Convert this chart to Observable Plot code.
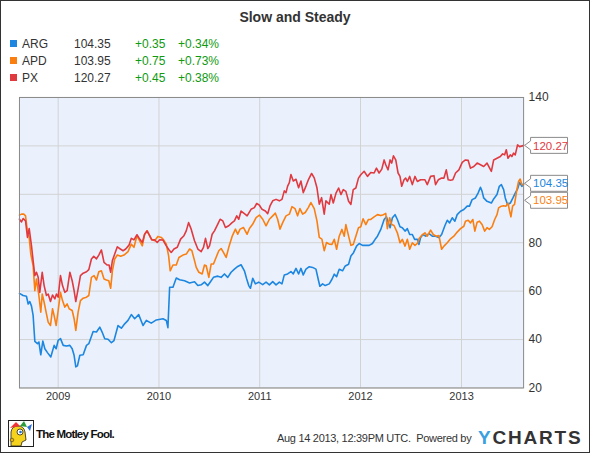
<!DOCTYPE html>
<html><head><meta charset="utf-8">
<script src="https://cdn.jsdelivr.net/npm/d3@7"></script>
<script src="https://cdn.jsdelivr.net/npm/@observablehq/plot@0.6"></script>
<style>
html,body{margin:0;padding:0;background:#fff;}
#wrap{position:relative;width:590px;height:453px;box-sizing:border-box;border:1px solid #333;overflow:hidden;font-family:"Liberation Sans",Arial,sans-serif;color:#333;background:#fff;}
#title{position:absolute;left:0;width:588px;top:8px;text-align:center;font-weight:bold;font-size:14px;line-height:17px;color:#333;}
.cell{position:absolute;font-size:12px;line-height:14px;white-space:nowrap;}
.sq{position:absolute;width:7px;height:7px;}
#chart{position:absolute;left:-1px;top:79px;}
#fool{position:absolute;left:7px;top:419px;}
#foolText{position:absolute;left:35px;top:426px;font-weight:bold;font-size:11.5px;letter-spacing:-0.8px;color:#111;line-height:14px;}
#stamp{position:absolute;left:276px;top:431px;font-size:11px;line-height:13px;color:#333;letter-spacing:-0.3px;}
#ych{position:absolute;left:477px;top:427px;font-size:19px;font-weight:900;letter-spacing:1.8px;line-height:20px;color:#333;}
#ych span{color:#3aa0e0;}
</style>
</head><body>
<div id="wrap">
  <div id="title">Slow and Steady</div>
  <div id="legend"></div>
  <div id="chart"></div>
  <svg id="fool" width="26" height="27" viewBox="0 0 26 27">
    <rect x="0.5" y="0.5" width="25" height="26" fill="#fff" stroke="#222"/>
    <path d="M3 26 L3 12 Q4 6 10 6 Q16 6 17 12 L18 20 L14 22 L13 26 Z" fill="#f5d21c" stroke="#222" stroke-width="0.8"/>
    <path d="M2 8 L8 2 L12 6 Z" fill="#e33" />
    <path d="M12 6 L16 1 L19 7 Z" fill="#2a9d3a"/>
    <path d="M19 7 L24 4 L22 11 Z" fill="#2b6fd6"/>
    <circle cx="12" cy="12" r="3" fill="#fff" stroke="#222" stroke-width="0.8"/>
    <circle cx="12.5" cy="12" r="1.3" fill="#1e6fd0"/>
    <circle cx="4" cy="20" r="1.8" fill="#e8b400" stroke="#222" stroke-width="0.5"/>
  </svg>
  <div id="foolText">The Motley Fool.</div>
  <div id="stamp">Aug 14 2013, 12:39PM UTC.&nbsp; Powered by</div>
  <div id="ych"><span>Y</span>CHARTS</div>
</div>
<script>
// ---------- data (dates as decimal years) ----------
const tickerNames = ["ARG", "APD", "PX"];
const lastValues = ["104.35", "103.95", "120.27"];
const changes = ["+0.35", "+0.75", "+0.45"];
const pctChanges = ["+0.34%", "+0.73%", "+0.38%"];
const seriesColors = ["#1c86e0", "#fb7f10", "#e03a40"];
const yTicks = [20, 40, 60, 80, 100, 120, 140];
const yearTicks = [2009, 2010, 2011, 2012, 2013];
const xStart = 2008.617, xEnd = 2013.616;

const argT = [2008.617,2008.653,2008.686,2008.703,2008.719,2008.736,2008.752,2008.769,2008.795,2008.809,2008.828,2008.848,2008.868,2008.894,2008.927,2008.960,2008.980,2009.000,2009.023,2009.050,2009.083,2009.116,2009.139,2009.158,2009.175,2009.191,2009.215,2009.248,2009.281,2009.304,2009.347,2009.380,2009.413,2009.436,2009.462,2009.495,2009.528,2009.554,2009.594,2009.627,2009.660,2009.693,2009.726,2009.759,2009.799,2009.842,2009.875,2009.924,2009.974,2010.040,2010.073,2010.089,2010.106,2010.139,2010.172,2010.205,2010.254,2010.304,2010.353,
2010.386,2010.419,2010.452,2010.485,2010.508,2010.541,2010.584,2010.617,2010.650,2010.683,2010.716,2010.749,2010.782,2010.815,2010.848,2010.871,2010.891,2010.908,2010.931,2010.957,2010.990,2011.030,2011.063,2011.096,2011.129,2011.162,2011.195,2011.221,2011.244,2011.277,2011.310,2011.333,2011.360,2011.386,2011.409,2011.432,2011.459,2011.492,2011.525,2011.558,2011.584,2011.597,2011.624,2011.650,2011.690,
2011.717,2011.740,2011.763,2011.789,2011.822,2011.849,2011.882,2011.905,2011.931,2011.961,2011.987,2012.020,2012.053,2012.086,2012.118,2012.145,2012.168,2012.201,2012.234,2012.257,2012.276,2012.293,2012.316,2012.342,2012.365,2012.391,2012.414,2012.441,2012.464,2012.487,2012.513,2012.536,2012.563,2012.579,2012.595,2012.618,2012.645,2012.678,2012.711,2012.743,2012.776,2012.803,2012.836,2012.859,2012.882,2012.908,2012.934,2012.957,2012.990,2013.023,2013.056,2013.079,2013.105,2013.138,2013.164,2013.188,2013.204,2013.220,2013.253,2013.296,2013.319,2013.352,2013.375,2013.395,2013.418,2013.434,2013.457,2013.484,2013.510,2013.533,2013.556,2013.576,2013.599,2013.616];
const argV = [59.1,58.2,57.9,54.7,55.7,53.8,50,39.2,38.3,39,33.7,39.4,36.2,34.6,32.8,37.6,36.2,39.7,40.4,37.6,37.3,37.6,36.2,33.5,28.7,29.1,33.5,33.7,37.6,38.3,43.3,43.1,45.1,43.1,40.3,40.1,38.7,39.6,45.8,44.7,46.5,47.9,50.3,48.6,50.3,45.8,47.9,46.8,48.1,48.6,47.9,44.9,61.6,61.6,65.4,64.7,64.3,63.4,63.9,
62.3,62.6,63.7,62.3,63.7,65.7,66.2,65.7,67.1,65.7,67.8,69.1,70.2,70.9,68.4,65,62.3,61.2,65.3,63,63.7,62.7,63.7,62.6,63.9,62.6,63.7,63,66.7,67.1,68.1,67.1,69.4,67.1,69.4,66.7,69.1,70.1,69.8,69.1,64.3,62,63,62.3,63,
64.9,67,66,69,68.4,70.4,71.1,74.5,75.9,78.6,79.7,78.9,78.9,78.9,79.7,81.4,82.7,85.5,89.6,90.7,88.2,86.2,90.3,91.6,89.6,86.6,86.2,84.8,85.8,83.4,83.4,81.4,81.4,79.3,82.1,83.4,82.7,83.8,82.7,82.7,82.1,83.4,87.1,89.3,88.2,90.3,88.9,91.6,93,93.7,95.1,95.1,97.8,98.5,100.5,102.9,101.2,98.5,97.1,96.4,98.1,99.9,103.3,104,101.9,98.5,95.8,96.4,98.5,100.5,102.2,104.9,103.3,104.35];

const apdT = [2008.617,2008.637,2008.660,2008.677,2008.693,2008.713,2008.729,2008.752,2008.769,2008.785,2008.809,2008.828,2008.842,2008.861,2008.884,2008.901,2008.924,2008.944,2008.960,2008.980,2009.000,2009.023,2009.043,2009.066,2009.089,2009.109,2009.139,2009.158,2009.175,2009.198,2009.221,2009.248,2009.281,2009.304,2009.330,2009.356,2009.380,2009.403,2009.429,2009.455,2009.479,2009.502,2009.521,2009.538,2009.561,2009.587,2009.620,2009.653,2009.693,2009.726,2009.752,2009.782,2009.809,2009.835,2009.858,2009.884,2009.924,2009.957,2009.990,2010.023,2010.046,2010.073,2010.096,2010.112,2010.139,2010.172,2010.198,2010.238,2010.271,2010.304,2010.327,2010.353,
2010.370,2010.396,2010.429,2010.452,2010.469,2010.495,2010.518,2010.541,2010.561,2010.594,2010.617,2010.640,2010.667,2010.693,2010.726,2010.759,2010.782,2010.805,2010.838,2010.875,2010.898,2010.931,2010.964,2010.997,2011.030,2011.063,2011.096,2011.129,2011.155,2011.178,2011.201,2011.228,2011.261,2011.294,2011.320,2011.350,2011.376,2011.399,2011.426,2011.452,2011.482,2011.508,2011.541,2011.568,2011.591,2011.617,2011.640,2011.663,2011.690,
2011.717,2011.740,2011.763,2011.789,2011.816,2011.839,2011.855,2011.882,2011.905,2011.928,2011.954,2011.980,2012.003,2012.026,2012.053,2012.079,2012.102,2012.135,2012.168,2012.201,2012.227,2012.250,2012.266,2012.289,2012.309,2012.332,2012.365,2012.391,2012.414,2012.441,2012.464,2012.487,2012.513,2012.539,2012.563,2012.579,2012.605,2012.638,2012.661,2012.694,2012.720,2012.750,2012.776,2012.803,2012.826,2012.859,2012.891,2012.924,2012.957,2012.990,2013.023,2013.039,2013.066,2013.089,2013.112,2013.132,2013.155,2013.178,2013.204,2013.230,2013.253,2013.276,2013.303,2013.329,2013.352,2013.368,2013.395,2013.418,2013.441,2013.461,2013.474,2013.490,2013.507,2013.526,2013.549,2013.566,2013.582,2013.599,2013.616];
const apdV = [91.4,91.8,91.8,91.1,85.6,82.2,75.3,70.5,60.2,65,58.2,51.3,58.8,55.4,50.6,47.2,45.8,52.7,49.9,45.8,52,59.5,56.1,53.4,54.7,52.7,52,48.6,43.8,51.3,56.1,57.1,57.5,58.2,65.7,66.4,64.6,68,68.4,65,64.6,64.3,61.2,68.4,73.3,74.9,74.4,74.9,76.3,79.4,78.1,82.9,80.8,78.7,83.5,84.9,81.5,80.8,82.6,82.2,81.2,79.4,74.6,68.4,70.8,70.8,73.9,74.9,75.3,77.4,76.7,72.6,
69.8,67.8,67.1,70.8,70.5,65.7,71.2,71.2,73.3,76.7,77.6,76,73.9,78.1,82.6,85.6,83.5,85.6,86.3,83.5,85.9,87.7,90.4,91.4,89.7,87,89.7,91.1,92.2,89.7,85.6,88.3,91.1,91.8,94.9,94.1,91.1,94.1,91.8,92.5,94.5,96.6,94.1,89,82.2,81.5,76.7,80.1,79.4,
79.3,81.4,77.3,82.7,85.5,82.7,87.5,82.7,78.9,79.3,82.7,86.2,86.6,89.9,87.5,89.6,89.6,90.7,91.6,91.2,91.6,92.1,85.8,90.3,87.5,87.1,84.1,80,81.4,78.6,81.4,77.3,80,78.9,79.7,81.6,83,84.1,82.7,85.2,83.4,82.7,83,77.3,78.6,80,81.6,82.7,84.4,85.8,86.8,88.9,89.3,88.2,89.6,84.8,88.5,88.9,87.5,84.8,86.2,85.5,86.6,89.6,91.6,94.4,95.1,95.3,95.1,96.4,93.7,90.7,95.1,95.8,101.9,105.3,106.3,104,103.95];

const pxT = [2008.617,2008.637,2008.653,2008.677,2008.696,2008.713,2008.736,2008.752,2008.769,2008.785,2008.802,2008.818,2008.842,2008.861,2008.884,2008.901,2008.924,2008.944,2008.967,2008.983,2009.000,2009.023,2009.043,2009.066,2009.089,2009.116,2009.139,2009.158,2009.175,2009.198,2009.221,2009.248,2009.281,2009.304,2009.330,2009.353,2009.380,2009.403,2009.429,2009.455,2009.485,2009.505,2009.521,2009.538,2009.561,2009.587,2009.617,2009.644,2009.670,2009.703,2009.726,2009.752,2009.782,2009.809,2009.835,2009.858,2009.881,2009.908,2009.931,2009.957,2009.983,2010.007,2010.040,2010.073,2010.099,2010.122,2010.149,2010.182,2010.215,2010.248,2010.271,2010.294,2010.320,2010.353,
2010.386,2010.419,2010.442,2010.462,2010.485,2010.502,2010.528,2010.551,2010.584,2010.607,2010.634,2010.660,2010.693,2010.726,2010.749,2010.772,2010.792,2010.815,2010.848,2010.875,2010.914,2010.947,2010.970,2010.997,2011.023,2011.056,2011.079,2011.102,2011.129,2011.162,2011.195,2011.221,2011.244,2011.261,2011.277,2011.294,2011.310,2011.333,2011.360,2011.386,2011.409,2011.432,2011.459,2011.485,2011.515,2011.541,2011.568,2011.591,2011.614,2011.640,2011.657,2011.690,
2011.707,2011.730,2011.757,2011.783,2011.806,2011.829,2011.855,2011.882,2011.905,2011.928,2011.954,2011.980,2012.003,2012.036,2012.069,2012.102,2012.135,2012.158,2012.184,2012.211,2012.234,2012.250,2012.273,2012.293,2012.309,2012.326,2012.349,2012.372,2012.391,2012.408,2012.431,2012.447,2012.464,2012.487,2012.513,2012.539,2012.563,2012.595,2012.638,2012.661,2012.694,2012.727,2012.743,2012.770,2012.803,2012.826,2012.849,2012.868,2012.891,2012.914,2012.941,2012.974,2013.007,2013.039,2013.066,2013.089,2013.122,2013.155,2013.188,2013.220,2013.253,2013.296,2013.319,2013.352,2013.385,2013.408,2013.428,2013.444,2013.461,2013.484,2013.500,2013.516,2013.533,2013.556,2013.576,2013.605,2013.616];
const pxV = [89.7,88.6,90,89,82.2,85.9,78.7,72.6,66.4,67.8,65.7,59.5,67.8,62.3,58.2,58.8,55.7,58.4,56.8,58.8,57.5,66.4,62.3,59.5,60.2,67.8,64.3,60.2,55.7,60.9,66.4,67.4,68,68.9,73.3,74.4,73.3,74.9,77,71.9,70.8,70.8,67.8,72.6,75.3,78.3,77.4,76.7,77.4,79,81.8,81.2,83.3,81.5,80.1,83.5,84.9,82.9,81.1,81.2,80.1,81.2,81.1,78.7,77.1,76,77.4,78.1,81.5,82.9,84.9,88.3,85.6,80.8,
77.4,76.3,78.1,81.8,77.6,78.7,83.5,84.9,87.7,89.7,89,86.3,87,88.3,89,91.1,89.7,93.1,92,91.1,93.8,94.5,96.2,95.5,93.8,93.1,92,95.2,97.3,97.9,97.3,97.9,101.4,100.7,103.4,104.8,108.2,105.5,106.2,102.7,105.5,100.7,103.4,106.2,108.6,106.8,102.7,95.9,98.6,91.8,97.3,95.9,
99.9,96.4,100.5,102.6,99.9,101.9,101.2,97.1,95.8,101.9,102.6,106.7,108.1,109.5,107.4,109,108.8,110.8,108.8,110.4,114.2,112.2,110.1,114.2,112.9,115.9,114.2,108.8,107.4,103.3,106,106.7,105.3,107.4,104,107.4,105.3,106,106,104,107.4,107.7,104,106,106.7,106.7,110.1,106,105.8,106,108.8,110.1,113.2,114.2,114,110.8,111.5,112.9,112.2,111.5,112.9,109.5,114.2,114.9,115.6,116.7,116.3,118.4,114.9,116.3,115.6,117,116.3,120.4,119.7,120,120.27];

// ---------- helpers ----------
function toDate(t) {
  const y = Math.floor(t);
  const a = Date.UTC(y, 0, 1), b = Date.UTC(y + 1, 0, 1);
  return new Date(a + (t - y) * (b - a));
}
const seriesT = [argT, apdT, pxT];
const seriesV = [argV, apdV, pxV];
const rows = [];
tickerNames.forEach((name, i) => {
  seriesT[i].forEach((t, j) => rows.push({name, date: toDate(t), value: seriesV[i][j]}));
});

// ---------- legend ----------
const legend = document.getElementById("legend");
const rowTop = [36, 53, 70];
tickerNames.forEach((name, i) => {
  const top = rowTop[i];
  const sq = document.createElement("div");
  sq.className = "sq"; sq.style.left = "9px"; sq.style.top = (top + 3) + "px"; sq.style.background = seriesColors[i];
  legend.appendChild(sq);
  const cells = [[name, 21, "#333"], [lastValues[i], 73, "#333"], [changes[i], 134, "#109a10"], [pctChanges[i], 177, "#109a10"]];
  cells.forEach(([txt, left, col]) => {
    const d = document.createElement("div");
    d.className = "cell"; d.textContent = txt; d.style.left = left + "px"; d.style.top = top + "px"; d.style.color = col;
    legend.appendChild(d);
  });
});

// ---------- chart ----------
function makeChart(axisTicks) {
  return Plot.plot({
    width: 590,
    height: 335,
    marginLeft: 19,
    marginRight: 66,
    marginTop: 17,
    marginBottom: 27,
    style: {fontFamily: "'Liberation Sans', Arial, sans-serif", fontSize: "11px", color: "#333", background: "transparent", overflow: "visible"},
    x: {type: "utc", domain: [toDate(xStart), toDate(xEnd)], label: null},
    y: {domain: [20, 140], label: null},
    color: {domain: tickerNames, range: seriesColors},
    marks: [
      Plot.frame({fill: "#eaf1fc", stroke: null}),
      Plot.gridX(yearTicks.map(y => toDate(y)), {stroke: "#d2d2d2", strokeOpacity: 1}),
      Plot.gridY(yTicks, {stroke: "#d2d2d2", strokeOpacity: 1}),
      Plot.line(rows, {x: "date", y: "value", z: "name", stroke: "name", strokeWidth: 1.6, strokeLinejoin: "round"}),
      Plot.frame({stroke: "#8a8a8a", strokeWidth: 1}),
      Plot.axisX(yearTicks.map(y => toDate(y)), {tickSize: 0, tickPadding: 4, tickFormat: d => String(d.getUTCFullYear()), label: null}),
      Plot.axisY(axisTicks, {anchor: "right", tickSize: 0, tickPadding: 5, fontSize: 12, label: null})
    ]
  });
}

// first pass: get the scales to place the end-value callouts
const probe = makeChart(yTicks);
const sx = probe.scale("x"), sy = probe.scale("y");
const x0 = sx.apply(toDate(xEnd));
const labels = tickerNames.map((n, i) => ({txt: lastValues[i], color: seriesColors[i], y: sy.apply(+lastValues[i])}))
  .sort((a, b) => a.y - b.y);
for (let i = 1; i < labels.length; i++) {
  if (labels[i].y - labels[i - 1].y < 17) labels[i].y = labels[i - 1].y + 17;
}
// tick labels hidden behind the callouts
const visibleTicks = yTicks.filter(t => !labels.some(l => Math.abs(sy.apply(t) - l.y) < 13));

const chart = makeChart(visibleTicks);
document.getElementById("chart").appendChild(chart);

const g = d3.select(chart).append("g").attr("text-anchor", "start");
labels.forEach(l => {
  const y = Math.round(l.y) + 0.5, tip = Math.round(x0) + 1.5, L = tip + 6, R = L + 37;
  g.append("path")
    .attr("d", `M${L},${y - 8}H${R}V${y + 8}H${L}V${y + 4.5}L${tip},${y}L${L},${y - 4.5}Z`)
    .attr("fill", "#fff").attr("stroke", "#8a8a8a").attr("stroke-width", 1);
  g.append("text").attr("x", L + 2.5).attr("y", y).attr("dy", "0.36em")
    .attr("text-anchor", "start")
    .attr("fill", l.color).attr("font-size", 11.5).text(l.txt);
});
</script>
</body></html>
